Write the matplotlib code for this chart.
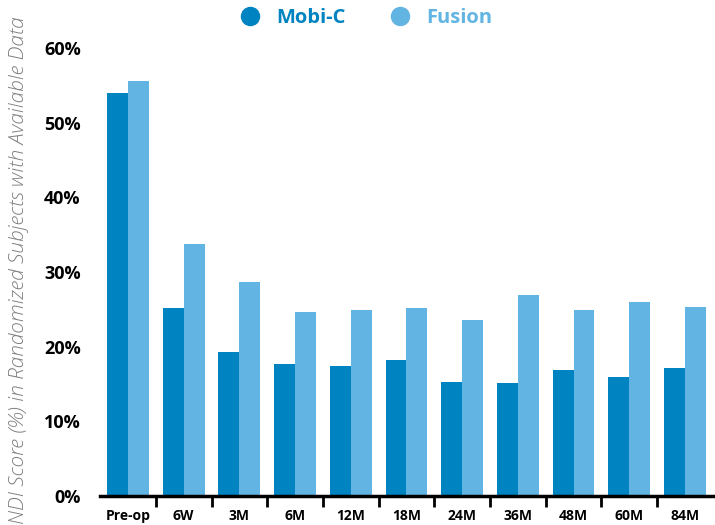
import matplotlib
matplotlib.use('Agg')
import matplotlib.pyplot as plt
from matplotlib.lines import Line2D
import numpy as np

# NDI score data
visits = ['Pre-op', '6W', '3M', '6M', '12M', '18M', '24M', '36M', '48M', '60M', '84M']
mobic = [54.0, 25.2, 19.3, 17.7, 17.4, 18.2, 15.3, 15.1, 16.9, 16.0, 17.2]
fusion = [55.5, 33.8, 28.6, 24.7, 24.9, 25.2, 23.6, 26.9, 24.9, 26.0, 25.3]

c_mobic = '#0083C1'
c_fusion = '#62B5E2'

plt.rcParams['font.family'] = ['Open Sans', 'DejaVu Sans']

fig = plt.figure(figsize=(7.15, 5.25), dpi=100)
ax = fig.add_axes([0.14, 0.055, 0.857, 0.854])

x = np.arange(len(visits))
w = 0.375
ax.bar(x - w / 2, mobic, w, color=c_mobic)
ax.bar(x + w / 2, fusion, w, color=c_fusion)

ax.set_xlim(-0.5, len(visits) - 0.5)
ax.set_ylim(0, 60)
ax.set_yticks(range(0, 61, 10))
ax.set_yticklabels([f'{v}%' for v in range(0, 61, 10)], fontsize=13, fontweight='bold')
ax.tick_params(axis='y', length=0, pad=14)

# category labels centred, tick marks on the boundaries
ax.set_xticks(x)
ax.set_xticklabels(visits, fontsize=10, fontweight='bold')
ax.tick_params(axis='x', which='major', length=0, pad=9)
ax.set_xticks(np.arange(0.5, len(visits) - 0.5, 1), minor=True)
ax.tick_params(axis='x', which='minor', length=8, width=2, direction='out')

for s in ['top', 'right', 'left']:
    ax.spines[s].set_visible(False)
ax.spines['bottom'].set_linewidth(2.5)

fig.text(0.027, 0.485, 'NDI Score (%) in Randomized Subjects with Available Data',
         rotation=90, ha='center', va='center', fontsize=15, style='italic',
         fontweight='light', color='#7f7f7f')

handles = [Line2D([], [], marker='o', ls='', color=c_mobic, markersize=13),
           Line2D([], [], marker='o', ls='', color=c_fusion, markersize=13)]
leg = fig.legend(handles, ['Mobi-C', 'Fusion'], loc='center', bbox_to_anchor=(0.505, 0.965),
                 ncol=2, frameon=False, handletextpad=0.3, columnspacing=1.7,
                 prop={'weight': 'bold', 'size': 14.5})
for t, c in zip(leg.get_texts(), [c_mobic, c_fusion]):
    t.set_color(c)

fig.savefig('out.png', dpi=100)
